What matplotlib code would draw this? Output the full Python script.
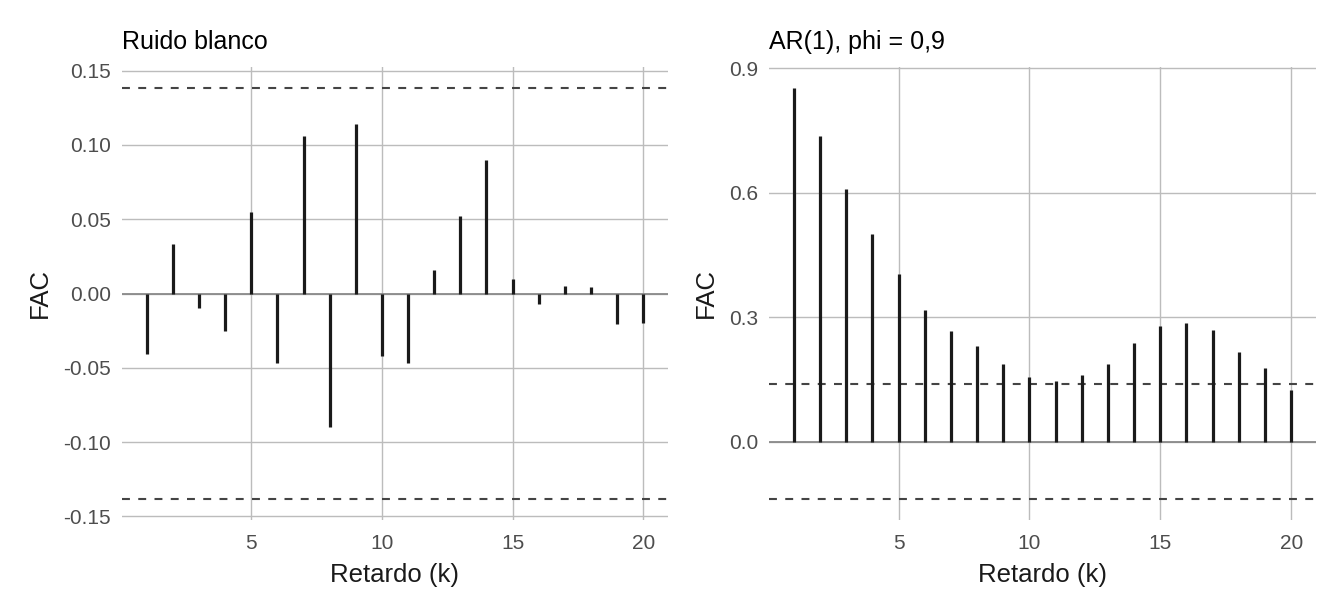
import matplotlib
matplotlib.use("Agg")
import matplotlib.pyplot as plt
import numpy as np

plt.rcParams['font.family'] = ['Liberation Sans', 'DejaVu Sans']

lags = list(range(1, 21))
fac_ruido = [-0.041, 0.033, -0.0098, -0.025, 0.055, -0.047, 0.106, -0.090, 0.114, -0.042,
             -0.047, 0.016, 0.052, 0.090, 0.010, -0.0069, 0.0053, 0.0045, -0.0206, -0.0201]
fac_ar1 = [0.853, 0.737, 0.610, 0.4995, 0.403, 0.3185, 0.266, 0.231, 0.1875, 0.1555,
           0.146, 0.162, 0.1866, 0.238, 0.278, 0.2855, 0.270, 0.217, 0.179, 0.124]
n_obs = 200
banda = 1.96 / np.sqrt(n_obs)

titles = ["Ruido blanco", "AR(1), phi = 0,9"]
yticks_list = [[-0.15, -0.10, -0.05, 0.00, 0.05, 0.10, 0.15], [0.0, 0.3, 0.6, 0.9]]
ytick_labels = [["-0.15", "-0.10", "-0.05", "0.00", "0.05", "0.10", "0.15"],
                ["0.0", "0.3", "0.6", "0.9"]]
xticks = [5, 10, 15, 20]

W, H = 1344, 614
fig = plt.figure(figsize=(W / 100, H / 100), dpi=100)

panels = [(122, 668), (769, 1316)]
top, bottom = 67, 520

grid_c = '#bcbcbc'
for i, (vals, (x0, x1)) in enumerate(zip([fac_ruido, fac_ar1], panels)):
    ax = fig.add_axes([x0 / W, (H - bottom) / H, (x1 - x0) / W, (bottom - top) / H])
    for s in ax.spines.values():
        s.set_visible(False)
    lo = min(min(vals), -banda)
    hi = max(max(vals), banda)
    r = hi - lo
    ax.set_ylim(lo - 0.05 * r, hi + 0.05 * r)
    ax.set_xlim(1 - 0.05 * 19, 20 + 0.05 * 19)
    ax.set_xticks(xticks)
    ax.set_xticklabels([str(t) for t in xticks])
    ax.set_yticks(yticks_list[i])
    ax.set_yticklabels(ytick_labels[i])
    ax.grid(True, color=grid_c, lw=1.0, zorder=0)
    ax.set_axisbelow(True)
    ax.tick_params(length=0, labelsize=15, labelcolor='#4d4d4d')
    ax.tick_params(axis='x', pad=10)
    ax.tick_params(axis='y', pad=8)
    ax.axhline(0, color='#8a8a8a', lw=1.3, zorder=1)
    ax.vlines(lags, 0, vals, color='#1a1a1a', lw=2.3, zorder=3, capstyle='butt')
    for b in (banda, -banda):
        ax.axhline(b, color='#444444', lw=1.5, ls=(0, (3.8, 4.0)), zorder=2)
    ax.set_xlabel("Retardo (k)", fontsize=18.5, color='#1a1a1a', labelpad=7)
    ax.set_ylabel("FAC", fontsize=18.5, color='#1a1a1a', labelpad=8)
    ax.set_title(titles[i], loc='left', fontsize=18, color='black', pad=13)

fig.savefig("out.png", dpi=100)
